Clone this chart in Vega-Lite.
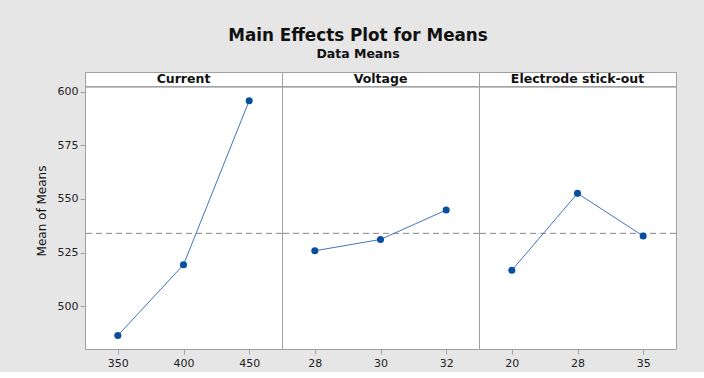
{
  "$schema": "https://vega.github.io/schema/vega-lite/v6.json",
  "background": "#e6e6e6",
  "padding": {"left": 35, "top": 28, "right": 27, "bottom": 3},
  "title": {
    "text": "Main Effects Plot for Means",
    "subtitle": "Data Means",
    "anchor": "middle",
    "font": "DejaVu Sans",
    "fontSize": 16.8,
    "fontWeight": "bold",
    "color": "#111111",
    "subtitleFont": "DejaVu Sans",
    "subtitleFontSize": 12.5,
    "subtitleFontWeight": "bold",
    "subtitleColor": "#111111",
    "subtitlePadding": 3,
    "offset": 11,
    "dx": 2
  },
  "data": {
    "values": [
      {"factor": "Current", "level": "350", "mean": 486.3},
      {"factor": "Current", "level": "400", "mean": 519.3},
      {"factor": "Current", "level": "450", "mean": 595.8},
      {"factor": "Voltage", "level": "28", "mean": 525.8},
      {"factor": "Voltage", "level": "30", "mean": 531.1},
      {"factor": "Voltage", "level": "32", "mean": 544.8},
      {"factor": "Electrode stick-out", "level": "20", "mean": 516.7},
      {"factor": "Electrode stick-out", "level": "28", "mean": 552.6},
      {"factor": "Electrode stick-out", "level": "35", "mean": 532.7}
    ]
  },
  "facet": {
    "column": {
      "field": "factor",
      "type": "nominal",
      "sort": ["Current", "Voltage", "Electrode stick-out"],
      "header": {"title": null, "labels": false}
    }
  },
  "spacing": 0,
  "bounds": "flush",
  "resolve": {"scale": {"x": "independent"}},
  "spec": {
    "width": 197,
    "height": 277,
    "encoding": {
      "x": {
        "field": "level",
        "type": "ordinal",
        "scale": {"type": "point", "padding": 0.5},
        "axis": {
          "title": null,
          "labelAngle": 0,
          "domain": false,
          "ticks": true,
          "tickSize": 5,
          "tickColor": "#a0a0a0",
          "labelPadding": 3,
          "labelFont": "DejaVu Sans",
          "labelFontSize": 11,
          "labelColor": "#222222"
        }
      },
      "y": {
        "field": "mean",
        "type": "quantitative",
        "scale": {"domain": [480, 609.2], "nice": false, "zero": false},
        "axis": {
          "title": "Mean of Means",
          "values": [500, 525, 550, 575, 600],
          "grid": false,
          "domain": false,
          "tickSize": 5,
          "tickColor": "#a0a0a0",
          "labelPadding": 2,
          "labelFont": "DejaVu Sans",
          "labelFontSize": 11,
          "labelColor": "#222222",
          "titleFont": "DejaVu Sans",
          "titleFontSize": 12,
          "titleFontWeight": "normal",
          "titleColor": "#111111",
          "titlePadding": 9
        }
      }
    },
    "layer": [
      {
        "mark": {"type": "rule", "color": "#a0a0a0", "strokeWidth": 1},
        "encoding": {"x": null, "y": {"datum": 602.3}}
      },
      {
        "mark": {"type": "rule", "color": "#9a9a9a", "strokeWidth": 1, "strokeDash": [6, 4]},
        "encoding": {"x": null, "y": {"datum": 533.9}}
      },
      {
        "mark": {"type": "line", "color": "#3f76bb", "strokeWidth": 1}
      },
      {
        "mark": {"type": "point", "filled": true, "size": 50, "color": "#0a4f9f", "opacity": 1}
      },
      {
        "transform": [
          {"window": [{"op": "row_number", "as": "rn"}], "groupby": ["factor"], "sort": [{"field": "level"}]},
          {"filter": "datum.rn == 2"}
        ],
        "mark": {"type": "text", "font": "DejaVu Sans", "fontSize": 12.5, "fontWeight": "bold", "color": "#111111", "baseline": "middle"},
        "encoding": {"y": {"datum": 605.8}, "text": {"field": "factor"}}
      }
    ]
  },
  "config": {
    "view": {"stroke": "#a0a0a0", "strokeWidth": 1, "fill": "white"}
  }
}
